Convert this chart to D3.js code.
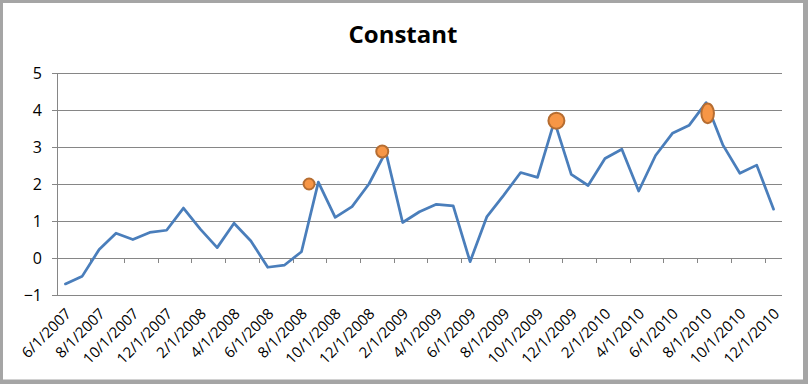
<!DOCTYPE html>
<html>
<head>
<meta charset="utf-8">
<script src="https://cdn.jsdelivr.net/npm/d3@7"></script>
<style>
  body { margin: 0; background: #fff; }
  svg { display: block; font-family: "Open Sans", Lato, sans-serif; }
</style>
</head>
<body>
<svg id="chart" width="808" height="384"></svg>
<script>
// monthly categories, 6/1/2007 .. 12/1/2010
var months = ["6/1/2007","7/1/2007","8/1/2007","9/1/2007","10/1/2007","11/1/2007","12/1/2007",
  "1/1/2008","2/1/2008","3/1/2008","4/1/2008","5/1/2008","6/1/2008","7/1/2008","8/1/2008","9/1/2008","10/1/2008","11/1/2008","12/1/2008",
  "1/1/2009","2/1/2009","3/1/2009","4/1/2009","5/1/2009","6/1/2009","7/1/2009","8/1/2009","9/1/2009","10/1/2009","11/1/2009","12/1/2009",
  "1/1/2010","2/1/2010","3/1/2010","4/1/2010","5/1/2010","6/1/2010","7/1/2010","8/1/2010","9/1/2010","10/1/2010","11/1/2010","12/1/2010"];

var constantValues = [-0.70,-0.49,0.23,0.67,0.50,0.69,0.75,1.35,0.78,0.28,0.94,0.46,-0.25,-0.19,0.17,
  2.05,1.10,1.39,2.00,2.87,0.96,1.25,1.45,1.41,-0.10,1.12,1.70,2.31,2.18,3.70,2.26,1.96,2.69,2.94,1.81,
  2.77,3.37,3.59,4.20,3.05,2.29,2.51,1.32];

// highlighted points (position in category units, value)
var markerPos = [14.45, 18.79, 29.12, 38.09];
var markerValues = [2.0, 2.88, 3.71, 3.91];

var yTicks = [-1, 0, 1, 2, 3, 4, 5];

var svg = d3.select("#chart");

var plotLeft = 57, plotRight = 782, plotTop = 73, plotBottom = 295;

// chart frame
svg.append("rect").attr("x",1.5).attr("y",1.5).attr("width",803).attr("height",379.5)
    .attr("fill","#fff").attr("stroke","#a5a5a5").attr("stroke-width",3);
svg.append("rect").attr("x",804).attr("y",0).attr("width",4).attr("height",384).attr("fill","#a5a5a5");
svg.append("rect").attr("x",0).attr("y",380).attr("width",808).attr("height",4).attr("fill","#a5a5a5");

var x = d3.scaleLinear().domain([-0.5, months.length - 0.5]).range([plotLeft, plotRight]);
var y = d3.scaleLinear().domain([-1, 5]).range([plotBottom, plotTop]);

svg.append("text")
    .attr("x", 403).attr("y", 43)
    .attr("text-anchor","middle")
    .attr("font-size","24px").attr("font-weight","bold")
    .attr("fill","#000")
    .text("Constant");

// gridlines
svg.append("g").selectAll("line").data(yTicks).enter().append("line")
    .attr("x1", plotLeft).attr("x2", plotRight)
    .attr("y1", function(d){ return y(d); }).attr("y2", function(d){ return y(d); })
    .attr("stroke","#868686").attr("stroke-width",1)
    .attr("shape-rendering","crispEdges");

// value axis
var yAxis = svg.append("g").attr("transform","translate(" + plotLeft + ",0)")
    .call(d3.axisLeft(y).tickValues(yTicks).tickFormat(d3.format("d"))
        .tickSize(5).tickSizeOuter(0).tickPadding(10));
yAxis.attr("font-size", 16).attr("font-family", "'Open Sans', sans-serif");
yAxis.selectAll("line, path").attr("stroke","#868686").attr("shape-rendering","crispEdges");
yAxis.select(".domain").attr("d","M0," + y(5) + "V" + y(-1));
yAxis.selectAll("text").attr("fill","#000");

// category axis crosses at 0: tick marks between every second category
var boundaries = d3.range(0, months.length, 2);
svg.append("g").selectAll("line").data(boundaries).enter().append("line")
    .attr("x1", function(d){ return x(d - 0.5); }).attr("x2", function(d){ return x(d - 0.5); })
    .attr("y1", y(0)).attr("y2", y(0) + 5)
    .attr("stroke","#868686").attr("shape-rendering","crispEdges");

// category labels at the bottom
var labelIdx = d3.range(0, months.length, 2);
svg.append("g").selectAll("text").data(labelIdx).enter().append("text")
    .attr("transform", function(d){ return "translate(" + (x(d) + 3) + "," + (plotBottom + 16) + ") rotate(-45)"; })
    .attr("text-anchor","end")
    .attr("dy","0.35em")
    .attr("font-size","15px")
    .attr("fill","#000")
    .text(function(d){ return months[d]; });

// series line
var line = d3.line()
    .x(function(d, i){ return x(i); })
    .y(function(d){ return y(d); });

svg.append("path")
    .datum(constantValues)
    .attr("d", line)
    .attr("fill","none")
    .attr("stroke","#4a7ebb")
    .attr("stroke-width",2.75)
    .attr("stroke-linejoin","round")
    .attr("stroke-linecap","round");

// markers
var markerRx = [5.5, 6, 8, 6.3];
var markerRy = [5.5, 6, 8, 9.8];
svg.append("g").selectAll("ellipse").data(markerValues).enter().append("ellipse")
    .attr("cx", function(d, i){ return x(markerPos[i]); })
    .attr("cy", function(d){ return y(d); })
    .attr("rx", function(d, i){ return markerRx[i]; })
    .attr("ry", function(d, i){ return markerRy[i]; })
    .attr("fill","#f79646")
    .attr("stroke","#b66d31")
    .attr("stroke-width",2);
</script>
</body>
</html>
